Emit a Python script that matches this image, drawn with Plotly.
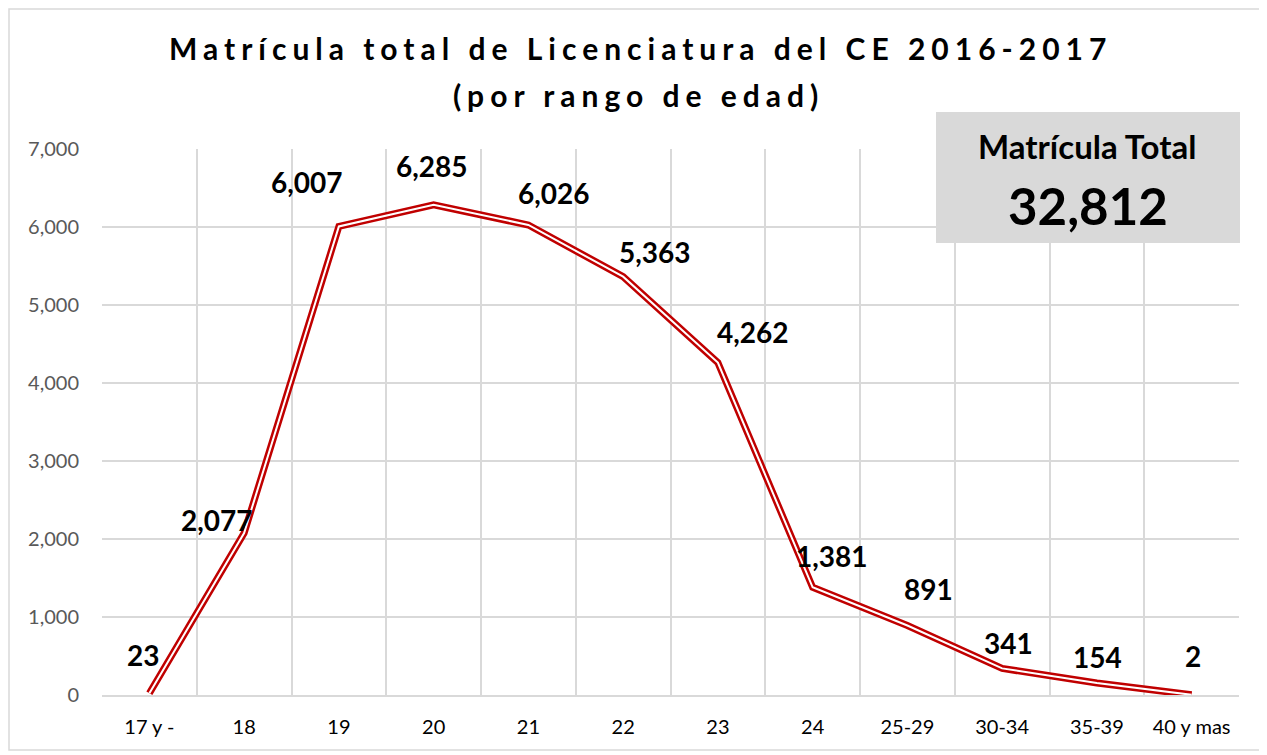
import plotly.graph_objects as go

categories = ["17 y -", "18", "19", "20", "21", "22", "23", "24", "25-29", "30-34", "35-39", "40 y mas"]
values = [23, 2077, 6007, 6285, 6026, 5363, 4262, 1381, 891, 341, 154, 2]
title_line1 = "Matrícula total de Licenciatura del CE 2016-2017"
title_line2 = "(por rango de edad)"
total_label = "Matrícula Total"
total_value = 32812
y_ticks = [0, 1000, 2000, 3000, 4000, 5000, 6000, 7000]

# label offsets (pixels) - style only
label_dx = [-6, -27, -32, -2, 26, 32, 35, 19, 21, 6, 1, 1]
label_dy = [38, 13, 44, 39, 32, 25, 31, 31, 37, 25, 26, 39]

FONT = "Lato"
OFF = 8  # page body margin
W, H = 1267 - OFF, 755 - OFF
# plot area in screen pixels
X0, X1, Y0, Y1 = 102, 1239, 149, 695
L, R, T, B = X0 - OFF, W - (X1 - OFF), Y0 - OFF, H - (Y1 - OFF)
pw, ph = W - L - R, H - T - B


def px(x):
    return (x - OFF - L) / pw


def py(y):
    return (H - B - (y - OFF)) / ph


fig = go.Figure()
fig.add_trace(go.Scatter(x=categories, y=values, mode="lines",
                         line=dict(color="#C00000", width=7), hoverinfo="skip", showlegend=False))
fig.add_trace(go.Scatter(x=categories, y=values, mode="lines",
                         line=dict(color="white", width=2), hoverinfo="skip", showlegend=False))

for i, (v, dx, dy) in enumerate(zip(values, label_dx, label_dy)):
    fig.add_annotation(x=i, y=v, xref="x", yref="y", text=f"{v:,}", showarrow=False,
                       xshift=dx, yshift=dy, xanchor="center", yanchor="middle",
                       font=dict(family=FONT, size=28, color="black", weight="bold"))

# titles
fig.add_annotation(xref="paper", yref="paper", x=px(640), y=py(48),
                   text=f'<span style="letter-spacing:6px">{title_line1}</span>',
                   showarrow=False, xanchor="center", yanchor="middle",
                   font=dict(family=FONT, size=30, color="black", weight="bold"))
fig.add_annotation(xref="paper", yref="paper", x=px(638), y=py(95),
                   text=f'<span style="letter-spacing:6px">{title_line2}</span>',
                   showarrow=False, xanchor="center", yanchor="middle",
                   font=dict(family=FONT, size=30, color="black", weight="bold"))

# total box
fig.add_shape(type="rect", xref="paper", yref="paper",
              x0=px(936), x1=px(1240), y0=py(243), y1=py(112),
              fillcolor="#D9D9D9", line=dict(width=0), layer="above")
fig.add_annotation(xref="paper", yref="paper", x=px(1087), y=py(146), text=total_label,
                   showarrow=False, xanchor="center", yanchor="middle",
                   font=dict(family=FONT, size=33, color="black", weight="bold"))
fig.add_annotation(xref="paper", yref="paper", x=px(1088), y=py(205), text=f"{total_value:,}",
                   showarrow=False, xanchor="center", yanchor="middle",
                   font=dict(family=FONT, size=51, color="black", weight="bold"))

# outer border
fig.add_shape(type="rect", xref="paper", yref="paper",
              x0=px(9), x1=px(1261), y0=py(750), y1=py(9),
              line=dict(color="#D9D9D9", width=1.5), fillcolor="rgba(0,0,0,0)")

fig.update_layout(
    width=W, height=H,
    margin=dict(l=L, r=R, t=T, b=B),
    paper_bgcolor="white", plot_bgcolor="white",
    xaxis=dict(type="category", tickson="boundaries", showgrid=True, gridcolor="#D9D9D9",
               gridwidth=1.5, ticks="", showline=True, linecolor="#D9D9D9", linewidth=1.5,
               tickfont=dict(family=FONT, size=20, color="black"), ticklabelstandoff=13,
               range=[-0.5, len(categories) - 0.5], fixedrange=True),
    yaxis=dict(range=[0, 7000], tickvals=y_ticks, tickformat=",", showgrid=True,
               gridcolor="#D9D9D9", gridwidth=1.5, zeroline=False, showline=False,
               tickfont=dict(family=FONT, size=20, color="#595959"), ticklabelstandoff=22),
)

fig.write_html("out.html")
